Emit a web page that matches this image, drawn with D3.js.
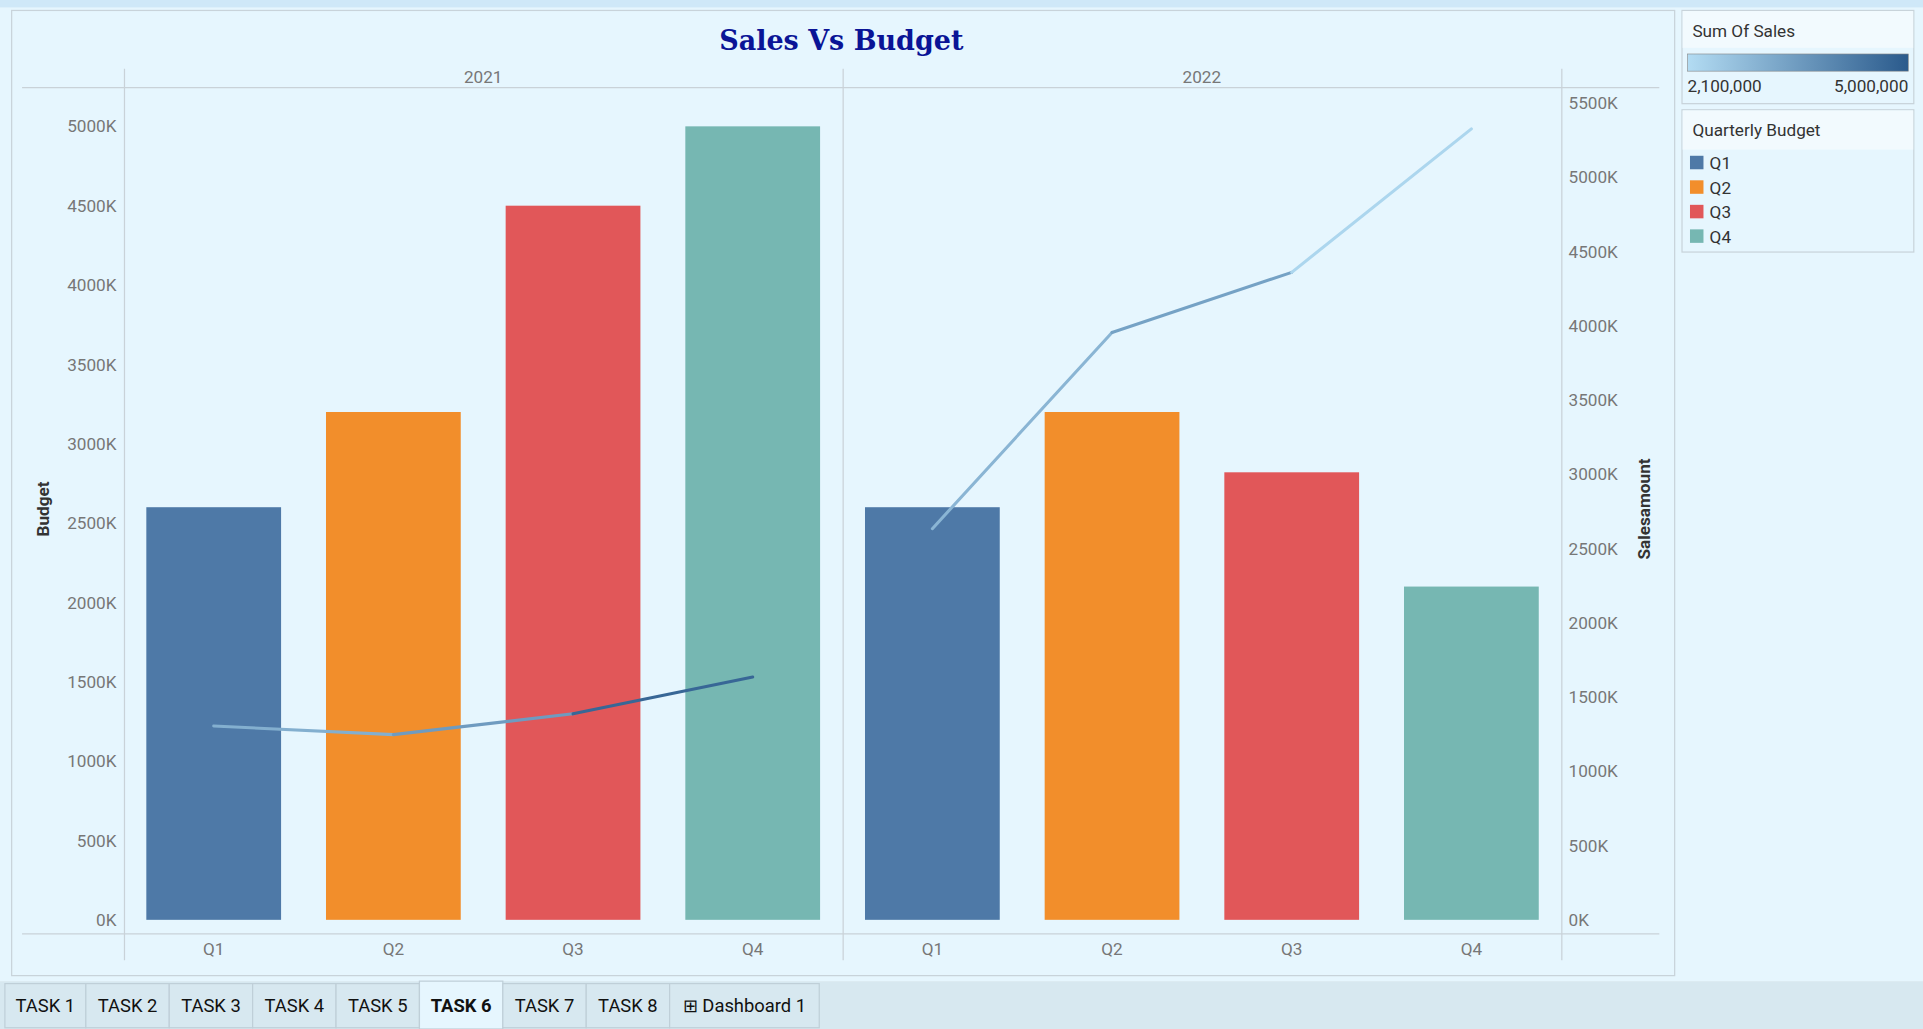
<!DOCTYPE html><html><head><meta charset="utf-8">
<script src="https://cdn.jsdelivr.net/npm/d3@7"></script>
<style>body{margin:0;background:#fff;overflow:hidden}svg{display:block}text{font-family:Roboto,"Noto Sans",sans-serif}</style></head><body>
<svg id="c" width="1923" height="1029" viewBox="0 0 1568 839"></svg>
<script>
const years=["2021","2022"];
const quarters=["Q1","Q2","Q3","Q4"];
const budget2021=[2600,3200,4500,5000];
const budget2022=[2600,3200,2820,2100];
const sales2021=[1305,1247,1387,1635];
const sales2022=[2634,3955,4360,5326];
const segShade2021=[0.35,0.5,0.9];
const segShade2022=[0.3,0.45,0.05];
const leftTicks=[0,500,1000,1500,2000,2500,3000,3500,4000,4500,5000];
const rightTicks=[0,500,1000,1500,2000,2500,3000,3500,4000,4500,5000,5500];
const barColors=["#4e79a7","#f28e2b","#e15759","#76b7b2"];
const tabs=["TASK 1","TASK 2","TASK 3","TASK 4","TASK 5","TASK 6","TASK 7","TASK 8","⊞ Dashboard 1"];

const svg=d3.select("#c");
svg.append("rect").attr("width",1568).attr("height",839).attr("fill","#fff");
svg.append("rect").attr("x",0).attr("y",0).attr("width",1568).attr("height",800).attr("fill","#e6f6fe");
svg.append("rect").attr("x",0).attr("y",0).attr("width",1568).attr("height",6).attr("fill","#cfe8f8");
svg.append("rect").attr("x",9.5).attr("y",8.5).attr("width",1356).attr("height",787).attr("fill","#e6f6fe").attr("stroke","#c8d3da");
svg.append("text").attr("x",686).attr("y",41).attr("text-anchor","middle").attr("font-weight","bold").attr("font-size",22).attr("fill","#0a1496").style("font-family","'DejaVu Serif',serif").text("Sales Vs Budget");

const topY=71,botY=761;
const yL=d3.scaleLinear().domain([0,5000]).range([750,103]);
const yR=d3.scaleLinear().domain([0,5500]).range([750,84]);
const paneX=d3.scaleBand().domain(years).range([101,1273]);
const line=(x1,y1,x2,y2,c)=>svg.append("line").attr("x1",x1).attr("y1",y1).attr("x2",x2).attr("y2",y2).attr("stroke",c||"#c9d2d8").attr("stroke-width",1);
line(18,topY+.5,1353,topY+.5);line(18,botY+.5,1353,botY+.5);
[101,687,1273].forEach(x=>line(x+.5,56,x+.5,783));
years.forEach(y=>svg.append("text").attr("x",paneX(y)+paneX.bandwidth()/2).attr("y",68).attr("text-anchor","middle").attr("font-size",14).attr("fill","#777").text(y));
const la=svg.append("g").attr("transform","translate(101,0)").call(d3.axisLeft(yL).tickValues(leftTicks).tickFormat(d=>d+"K").tickSize(0).tickPadding(6));
const ra=svg.append("g").attr("transform","translate(1273,0)").call(d3.axisRight(yR).tickValues(rightTicks).tickFormat(d=>d+"K").tickSize(0).tickPadding(6));
[la,ra].forEach(a=>{a.select(".domain").remove();a.selectAll("text").attr("font-size",14).attr("fill","#777").style("font-family","Roboto,sans-serif");});
svg.append("text").attr("transform","translate(40,415) rotate(-90)").attr("text-anchor","middle").attr("font-size",14).attr("font-weight","bold").attr("fill","#333").text("Budget");
svg.append("text").attr("transform","translate(1345,415) rotate(-90)").attr("text-anchor","middle").attr("font-size",14).attr("font-weight","bold").attr("fill","#333").text("Salesamount");
const shade=d3.scaleLinear().domain([0,1]).range(["#b3dcf3","#2a5a8c"]);
[[budget2021,sales2021,segShade2021],[budget2022,sales2022,segShade2022]].forEach(([b,s,sh],i)=>{
  const x=d3.scaleBand().domain(quarters).range([paneX(years[i]),paneX(years[i])+paneX.bandwidth()]).paddingInner(0.25).paddingOuter(0.125);
  svg.append("g").selectAll("rect").data(b).join("rect").attr("x",(d,j)=>x(quarters[j])).attr("width",x.bandwidth())
    .attr("y",d=>yL(d)).attr("height",d=>yL(0)-yL(d)).attr("fill",(d,j)=>barColors[j]);
  quarters.forEach(q=>svg.append("text").attr("x",x(q)+x.bandwidth()/2).attr("y",779).attr("text-anchor","middle").attr("font-size",14).attr("fill","#777").text(q));
  const cx=j=>x(quarters[j])+x.bandwidth()/2;
  for(let j=0;j<3;j++) svg.append("line").attr("x1",cx(j)).attr("y1",yR(s[j])).attr("x2",cx(j+1)).attr("y2",yR(s[j+1])).attr("stroke",shade(sh[j])).attr("stroke-width",2.5).attr("stroke-linecap","round");
});
const lg=svg.append("g");
lg.append("rect").attr("x",1371.5).attr("y",8.5).attr("width",189).attr("height",76).attr("fill","#e6f6fe").attr("stroke","#c8d3da");
lg.append("rect").attr("x",1372).attr("y",9).attr("width",188).attr("height",30).attr("fill","#f2fafe");
lg.append("text").attr("x",1380).attr("y",30).attr("font-size",14).attr("fill","#333").text("Sum Of Sales");
const grad=svg.append("defs").append("linearGradient").attr("id","g");
grad.append("stop").attr("offset","0").attr("stop-color","#b3dcf3");grad.append("stop").attr("offset","1").attr("stop-color","#2a5a8c");
lg.append("rect").attr("x",1376).attr("y",44).attr("width",180).attr("height",14).attr("fill","url(#g)").attr("stroke","#888").attr("stroke-width",0.5);
lg.append("text").attr("x",1376).attr("y",75).attr("font-size",14).attr("fill","#333").text("2,100,000");
lg.append("text").attr("x",1556).attr("y",75).attr("text-anchor","end").attr("font-size",14).attr("fill","#333").text("5,000,000");
lg.append("rect").attr("x",1371.5).attr("y",89.5).attr("width",189).attr("height",116).attr("fill","#e6f6fe").attr("stroke","#c8d3da");
lg.append("rect").attr("x",1372).attr("y",90).attr("width",188).attr("height",32).attr("fill","#f2fafe");
lg.append("text").attr("x",1380).attr("y",111).attr("font-size",14).attr("fill","#333").text("Quarterly Budget");
quarters.forEach((q,j)=>{lg.append("rect").attr("x",1378).attr("y",127+j*20).attr("width",11).attr("height",11).attr("fill",barColors[j]);
  lg.append("text").attr("x",1394).attr("y",138+j*20).attr("font-size",14).attr("fill","#333").text(q);});
svg.append("rect").attr("x",0).attr("y",800).attr("width",1568).attr("height",39).attr("fill","#d7e8f0");
const tw=[66,68,68,68,68,68,68,68,122];let tx=4;
tabs.forEach((t,i)=>{const act=i===5;
  svg.append("rect").attr("x",tx).attr("y",act?800:802).attr("width",tw[i]).attr("height",act?39:36).attr("fill",act?"#e6f6fe":"#d7e8f0").attr("stroke","#bfcfd8");
  svg.append("text").attr("x",tx+tw[i]/2).attr("y",825).attr("text-anchor","middle").attr("font-size",15).attr("font-weight",act?"bold":"normal").attr("fill","#111").text(t);
  tx+=tw[i];});
</script></body></html>
